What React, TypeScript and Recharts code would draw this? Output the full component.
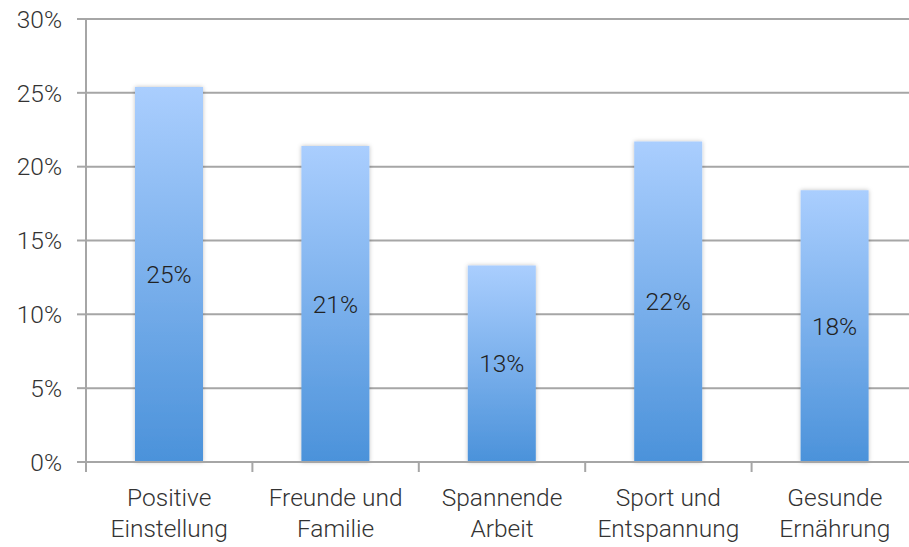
import React from "react";
import { Bar, BarChart, CartesianGrid, LabelList, XAxis, YAxis } from "recharts";

// Kategorien und Werte (in Prozent)
const categories = ["Positive Einstellung", "Freunde und Familie", "Spannende Arbeit", "Sport und Entspannung", "Gesunde Ernährung"];
const categoryLines = [
  ["Positive", "Einstellung"],
  ["Freunde und", "Familie"],
  ["Spannende", "Arbeit"],
  ["Sport und", "Entspannung"],
  ["Gesunde", "Ernährung"],
];
const values = [25.4, 21.4, 13.3, 21.7, 18.4];
const yTicks = [0, 5, 10, 15, 20, 25, 30];

const data = categories.map((name, i) => ({ name, lines: categoryLines[i], value: values[i] }));

const FONT = "Roboto, 'Liberation Sans', sans-serif";
const FS = 24.5;

function CategoryTick(props: any) {
  const { x, y, payload, index } = props;
  const band = 832 / categories.length;
  const lines: string[] = categoryLines[index] ?? [payload.value];
  return (
    <g>
      <line x1={x - band / 2} x2={x - band / 2} y1={y - 8} y2={y + 2} stroke="#a6a6a6" strokeWidth={2} />
      {index === categories.length - 1 && (
        <line x1={x + band / 2} x2={x + band / 2} y1={y - 8} y2={y + 2} stroke="#a6a6a6" strokeWidth={2} />
      )}
      {lines.map((t, i) => (
        <text key={i} x={x} y={y + 36 + i * 31} textAnchor="middle" fill="#333" fontSize={FS} fontWeight={300} fontFamily={FONT}>
          {t}
        </text>
      ))}
    </g>
  );
}

export default function App() {
  return (
    <div style={{ position: "fixed", left: 0, top: 0, width: 909, height: 547, overflow: "hidden", background: "#fff" }}>
      <BarChart width={930} height={547} data={data} margin={{ top: 19, right: 12, left: 0, bottom: 0 }} barCategoryGap={0}>
        <defs>
          <linearGradient id="barFill" x1="0" y1="0" x2="0" y2="1">
            <stop offset="0%" stopColor="#aacefe" />
            <stop offset="100%" stopColor="#4b92da" />
          </linearGradient>
          <filter id="barShadow" x="-20%" y="-5%" width="140%" height="110%">
            <feDropShadow dx="0" dy="0" stdDeviation="2" floodColor="#000" floodOpacity="0.25" />
          </filter>
        </defs>
        <CartesianGrid vertical={false} stroke="#a6a6a6" strokeWidth={2} />
        <XAxis
          dataKey="name"
          height={85}
          interval={0}
          axisLine={{ stroke: "#a6a6a6", strokeWidth: 2 }}
          tickLine={false}
          tick={<CategoryTick />}
        />
        <YAxis
          width={86}
          domain={[0, 30]}
          ticks={yTicks}
          tickFormatter={(v) => `${v}%`}
          axisLine={{ stroke: "#a6a6a6", strokeWidth: 2 }}
          tickLine={{ stroke: "#a6a6a6", strokeWidth: 2 }}
          tickSize={9}
          tickMargin={15}
          tick={{ fill: "#333", fontSize: FS, fontWeight: 300, fontFamily: FONT }}
        />
        <Bar dataKey="value" barSize={68} fill="url(#barFill)" filter="url(#barShadow)" isAnimationActive={false}>
          <LabelList
            dataKey="value"
            position="center"
            formatter={(v: any) => `${Math.round(Number(v))}%`}
            fill="#222"
            fontSize={FS}
            fontWeight={300}
            fontFamily={FONT}
          />
        </Bar>
      </BarChart>
    </div>
  );
}
